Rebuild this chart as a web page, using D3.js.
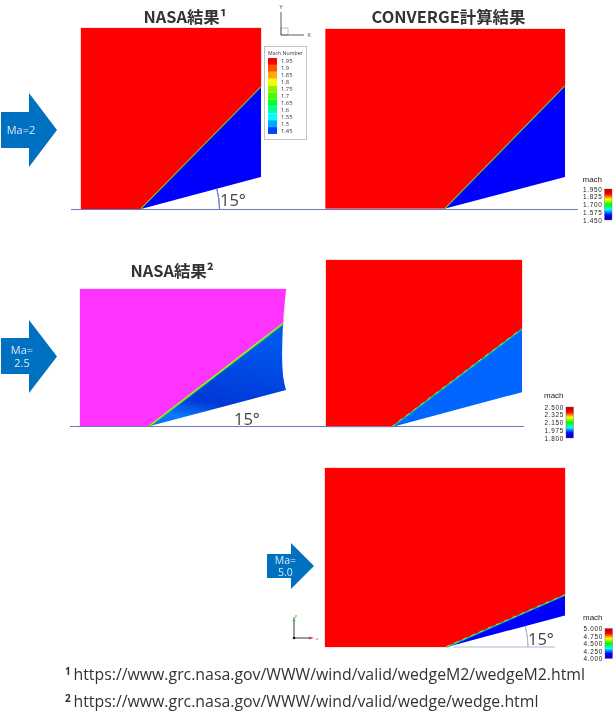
<!DOCTYPE html>
<html>
<head>
<meta charset="utf-8">
<script src="https://cdn.jsdelivr.net/npm/d3@7"></script>
<style>
html, body { margin: 0; padding: 0; background: #fff; }
svg { filter: blur(0.3px); }
text { font-family: "Open Sans", "Noto Sans CJK JP", sans-serif; }
</style>
</head>
<body>
<svg id="chart" width="615" height="723"></svg>
<script>
// panel values, x is in wedge lengths from the apex, y is height over the plate
var panelNames = ["nasaM2", "convergeM2", "nasaM25", "convergeM25", "convergeM5"];
var panelLeft = [-0.5, -1.0, -0.515, -0.508, -1.03];
var panelTop = [1.51, 1.495, 1.007, 1.285, 1.517];
var shockEnd = [1.017, 1.02, 0.75, 0.754, 0.44];
var wedgeEnd = [0.268, 0.262, 0.265, 0.268, 0.268];
var wedgeFill = ["#0000ff", "#0000ff", "url(#wedgeShade)", "#0066ff", "#0000ff"];
var gasFill = ["#ff0000", "#ff0000", "#ff33ff", "#ff0000", "#ff0000"];

// outflow edge of the 2.5 NASA run is bent, so read it point by point
var bentX = [1, 0.985, 0.978, 0.971, 0.978, 1];
var bentY = [1.007, 0.853, 0.75, 0.522, 0.375, 0.265];

// NASA legend
var nasaTicks = ["1.95", "1.9", "1.85", "1.8", "1.75", "1.7", "1.65", "1.6", "1.55", "1.5", "1.45"];
var nasaColors = ["#ff0000", "#ff5500", "#ffaa00", "#eeff00", "#99ee00", "#44ff00", "#00ff33", "#00ff99", "#00ffff", "#00aaff", "#0044ff"];

// colour bars next to the CONVERGE plots
var barTicksM2 = [1.95, 1.825, 1.7, 1.575, 1.45];
var barTicksM25 = [2.5, 2.325, 2.15, 1.975, 1.8];
var barTicksM5 = [5, 4.75, 4.5, 4.25, 4];
var jetStops = ["#0000c8", "#0000ff", "#00ffff", "#00ff00", "#ffff00", "#ff0000", "#b00000"];

var arrowLabels = [["Ma=2"], ["Ma=", "2.5"], ["Ma=", "5.0"]];

// where things go on the page
var panelBox = [
  { x0: 81, x1: 261, y0: 209, y1: 28 },
  { x0: 325.5, x1: 565, y0: 208.5, y1: 29 },
  { x0: 80, x1: 286, y0: 426, y1: 289 },
  { x0: 326, x1: 522, y0: 427, y1: 260 },
  { x0: 325, x1: 565, y0: 647, y1: 468 }
];

var svg = d3.select("#chart");
var defs = svg.append("defs");

var shade = defs.append("linearGradient").attr("id", "wedgeShade")
  .attr("x1", 0).attr("y1", 1).attr("x2", 0.25).attr("y2", 0);
shade.append("stop").attr("offset", "0%").attr("stop-color", "#0a6cf5");
shade.append("stop").attr("offset", "14%").attr("stop-color", "#0a78ff");
shade.append("stop").attr("offset", "32%").attr("stop-color", "#0038d8");
shade.append("stop").attr("offset", "100%").attr("stop-color", "#0058f0");

var jet = defs.append("linearGradient").attr("id", "jet")
  .attr("x1", 0).attr("y1", 1).attr("x2", 0).attr("y2", 0);
jetStops.forEach(function(c, i) {
  jet.append("stop").attr("offset", (i / (jetStops.length - 1) * 100) + "%").attr("stop-color", c);
});

var line = d3.line();
var bentLine = d3.line().curve(d3.curveMonotoneY);

panelNames.forEach(function(name, i) {
  var box = panelBox[i];
  var x = d3.scaleLinear().domain([panelLeft[i], 1]).range([box.x0, box.x1]);
  var y = d3.scaleLinear().domain([0, panelTop[i]]).range([box.y0, box.y1]);
  var g = svg.append("g").attr("class", name);
  var shockX = name == "nasaM25" ? bentX[2] : 1;

  // gas region above the shock
  var gas = [[panelLeft[i], 0], [0, 0], [shockX, shockEnd[i]]];
  var gasPath;
  if (name == "nasaM25") {
    var upper = d3.range(0, 3).map(function(k) { return [x(bentX[k]), y(bentY[k])]; });
    gasPath = line([[x(panelLeft[i]), y(0)], [x(0), y(0)], [x(shockX), y(shockEnd[i])]]) +
      "L" + bentLine(upper.slice().reverse()).slice(1) +
      "L" + x(panelLeft[i]) + "," + y(panelTop[i]) + "Z";
  } else {
    gas.push([1, panelTop[i]], [panelLeft[i], panelTop[i]]);
    gasPath = line(gas.map(function(p) { return [x(p[0]), y(p[1])]; })) + "Z";
  }
  g.append("path").attr("d", gasPath).attr("fill", gasFill[i])
    .attr("stroke", gasFill[i]).attr("stroke-opacity", 0.35).attr("stroke-width", 0.8);

  // wedge flow below the shock
  var wedgePath;
  if (name == "nasaM25") {
    var lower = d3.range(2, 6).map(function(k) { return [x(bentX[k]), y(bentY[k])]; });
    wedgePath = "M" + x(0) + "," + y(0) + "L" + bentLine(lower).slice(1) + "Z";
  } else {
    wedgePath = line([[0, 0], [1, shockEnd[i]], [1, wedgeEnd[i]]].map(function(p) {
      return [x(p[0]), y(p[1])];
    })) + "Z";
  }
  g.append("path").attr("d", wedgePath).attr("fill", wedgeFill[i]);

  // shock front, a thin band through the whole colour range
  var shockPath = line([[x(0), y(0)], [x(shockX), y(shockEnd[i])]]);
  var noisy = name == "convergeM25" || name == "convergeM5";
  var wide = name == "nasaM25" ? 2.2 : (noisy ? 1.5 : 1);
  g.append("path").attr("d", shockPath).attr("fill", "none")
    .attr("stroke", noisy ? "#00c8a0" : "#00d060").attr("stroke-width", wide);
  g.append("path").attr("d", shockPath).attr("fill", "none")
    .attr("stroke", "#e8e800").attr("stroke-width", wide * 0.5)
    .attr("stroke-dasharray", noisy ? "4 5" : null)
    .attr("transform", "translate(-0.4,-0.4)");
});

// plate lines
var plateColor = "#6a7cc0";
var plates = [[71, 578, 209.5, plateColor], [70, 524, 426.5, plateColor], [453, 555, 647, "#aeb8da"]];
svg.selectAll("line.plate").data(plates).enter().append("line")
  .attr("class", "plate")
  .attr("x1", function(d) { return d[0]; })
  .attr("x2", function(d) { return d[1]; })
  .attr("y1", function(d) { return d[2]; })
  .attr("y2", function(d) { return d[2]; })
  .attr("stroke", function(d) { return d[3]; })
  .attr("stroke-width", 1.2);

// 15 degree arcs
var wedgeAngle = 15;
var arcs = [[141.5, 209, 78, plateColor], [447, 647, 81, "#aeb8da"]];
arcs.forEach(function(a) {
  var arc = d3.arc().innerRadius(a[2]).outerRadius(a[2])
    .startAngle(Math.PI / 2 - wedgeAngle * Math.PI / 180).endAngle(Math.PI / 2);
  svg.append("path").attr("d", arc()).attr("transform", "translate(" + a[0] + "," + a[1] + ")")
    .attr("fill", "none").attr("stroke", a[3]).attr("stroke-width", 1);
});

var degLabels = [[220, 206], [234, 425], [528, 645]];
svg.selectAll("text.deg").data(degLabels).enter().append("text")
  .attr("class", "deg")
  .attr("x", function(d) { return d[0]; })
  .attr("y", function(d) { return d[1]; })
  .attr("font-size", 16.5).attr("fill", "#444")
  .text(wedgeAngle + "°");

// titles
var titles = [["NASA結果¹", 185, 23], ["CONVERGE計算結果", 448.5, 23], ["NASA結果²", 172, 277]];
svg.selectAll("text.title").data(titles).enter().append("text")
  .attr("class", "title")
  .attr("x", function(d) { return d[1]; })
  .attr("y", function(d) { return d[2]; })
  .attr("text-anchor", "middle").attr("font-size", 16.4).attr("font-weight", 700)
  .attr("fill", "#333")
  .style("font-family", '"Noto Sans CJK JP", sans-serif')
  .text(function(d) { return d[0]; });

// arrows
var arrowBox = [
  { x0: 1, neck: 29, tip: 57, top: 93, y0: 112, y1: 148, bottom: 167 },
  { x0: 1, neck: 29, tip: 57, top: 320, y0: 338, y1: 374, bottom: 393 },
  { x0: 267, neck: 291, tip: 314, top: 543, y0: 554, y1: 578, bottom: 589 }
];
arrowBox.forEach(function(b, i) {
  var mid = (b.top + b.bottom) / 2;
  svg.append("path")
    .attr("d", line([[b.x0, b.y0], [b.neck, b.y0], [b.neck, b.top], [b.tip, mid],
      [b.neck, b.bottom], [b.neck, b.y1], [b.x0, b.y1]]) + "Z")
    .attr("fill", "#0070c0");
  var rows = arrowLabels[i];
  var cx = i == 0 ? 21 : (i == 1 ? 22 : 285.5);
  var lh = i == 2 ? 12.5 : 13.5;
  rows.forEach(function(t, k) {
    svg.append("text")
      .attr("x", cx)
      .attr("y", mid + 4 + (k - (rows.length - 1) / 2) * lh)
      .attr("text-anchor", "middle").attr("font-size", i == 2 ? 10.5 : 11)
      .attr("fill", "#dce9f5").text(t);
  });
});

// NASA discrete legend
var legend = svg.append("g");
legend.append("rect").attr("x", 264.5).attr("y", 46.5).attr("width", 42).attr("height", 93)
  .attr("fill", "#fff").attr("stroke", "#c4c4c4").attr("stroke-width", 1);
legend.append("text").attr("x", 268).attr("y", 54.5).attr("font-size", 5.2).attr("fill", "#333")
  .text("Mach Number");
var legendY = d3.scaleBand().domain(nasaTicks).range([58, 134]);
legend.selectAll("rect.swatch").data(nasaTicks).enter().append("rect")
  .attr("class", "swatch")
  .attr("x", 268).attr("width", 9)
  .attr("y", function(d) { return legendY(d); })
  .attr("height", legendY.bandwidth())
  .attr("fill", function(d, i) { return nasaColors[i]; });
legend.selectAll("text.tick").data(nasaTicks).enter().append("text")
  .attr("class", "tick")
  .attr("x", 281)
  .attr("y", function(d) { return legendY(d) + legendY.bandwidth() / 2 + 2; })
  .attr("font-size", 5.8).attr("fill", "#333")
  .text(function(d) { return d; });

// colour bars, the labels sit tight so they stay small and get spaced out
function colorBar(ticks, left, top, bottom, titleY, digits) {
  var scale = d3.scaleLinear().domain([ticks[ticks.length - 1], ticks[0]]).range([bottom, top]);
  var g = svg.append("g");
  g.append("text").attr("x", left - 22).attr("y", titleY).attr("font-size", 8)
    .attr("fill", "#222").style("font-family", '"Liberation Sans", sans-serif').text("mach");
  g.append("rect").attr("x", left).attr("y", top).attr("width", 7.5).attr("height", bottom - top)
    .attr("fill", "url(#jet)").attr("stroke", "#8a5a5a").attr("stroke-width", 0.4);
  g.selectAll("text.tick").data(ticks).enter().append("text")
    .attr("class", "tick")
    .attr("x", left - 2).attr("text-anchor", "end")
    .attr("y", function(d) { return scale(d) + 2.6; })
    .attr("font-size", 6.4).attr("letter-spacing", 0.7).attr("fill", "#222")
    .style("font-family", '"Liberation Sans", sans-serif')
    .text(function(d) { return d3.format(digits)(d); });
}
colorBar(barTicksM2, 604.5, 189, 220, 182, ".3f");
colorBar(barTicksM25, 566, 407, 438, 398, ".3f");
colorBar(barTicksM5, 605, 628.5, 658.5, 620, ".3f");

// small axis triad at the top
var triad = svg.append("g");
triad.append("rect").attr("x", 281).attr("y", 28).attr("width", 7).attr("height", 7)
  .attr("fill", "none").attr("stroke", "#999").attr("stroke-width", 0.6);
triad.append("path").attr("d", line([[281, 12], [281, 35], [304, 35]]))
  .attr("fill", "none").attr("stroke", "#333").attr("stroke-width", 0.8);
triad.append("text").attr("x", 281).attr("y", 9).attr("text-anchor", "middle")
  .attr("font-size", 5.5).attr("fill", "#333").text("Y");
triad.append("text").attr("x", 309).attr("y", 37).attr("text-anchor", "middle")
  .attr("font-size", 5.5).attr("fill", "#333").text("X");

// and the coloured one at the bottom
var triad2 = svg.append("g");
triad2.append("line").attr("x1", 294).attr("x2", 294).attr("y1", 638).attr("y2", 620)
  .attr("stroke", "#222").attr("stroke-width", 0.9);
triad2.append("line").attr("x1", 294).attr("x2", 310).attr("y1", 638).attr("y2", 638)
  .attr("stroke", "#222").attr("stroke-width", 0.9);
triad2.append("path").attr("d", line([[292.5, 621], [295.5, 621], [294, 616]])).attr("fill", "#44c040");
triad2.append("path").attr("d", line([[309, 636.5], [309, 639.5], [314, 638]])).attr("fill", "#d84040");
triad2.append("circle").attr("cx", 294).attr("cy", 638).attr("r", 1.3).attr("fill", "#101060");
triad2.append("text").attr("x", 295).attr("y", 617).attr("font-size", 3.8).attr("fill", "#444").text("y");
triad2.append("text").attr("x", 316).attr("y", 639.5).attr("font-size", 3.8).attr("fill", "#444").text("x");

// footnotes
var noteMarks = ["1", "2"];
var noteLinks = ["https://www.grc.nasa.gov/WWW/wind/valid/wedgeM2/wedgeM2.html",
  "https://www.grc.nasa.gov/WWW/wind/valid/wedge/wedge.html"];
var noteY = [680, 707];
noteLinks.forEach(function(link, i) {
  svg.append("text").attr("x", 65).attr("y", noteY[i] - 5).attr("font-size", 10)
    .attr("font-weight", 700).attr("fill", "#333").text(noteMarks[i]);
  svg.append("text").attr("x", 73.5).attr("y", noteY[i]).attr("font-size", 15.85)
    .attr("fill", "#333").text(link);
});
</script>
</body>
</html>
